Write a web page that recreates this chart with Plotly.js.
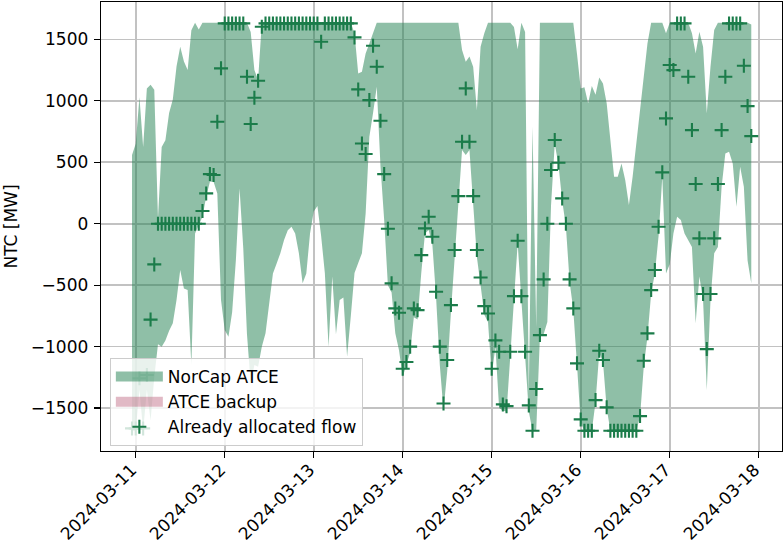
<!DOCTYPE html>
<html>
<head>
<meta charset="utf-8">
<script src="https://cdn.plot.ly/plotly-3.0.1.min.js"></script>
<style>html,body{margin:0;padding:0;background:#fff;}#chart{width:783px;height:547px;}</style>
</head>
<body>
<div id="chart"></div>
<script>
// Hourly series, first hour 2024-03-10 23:00, 168 hours
const startTime = '2024-03-10T23:00:00Z';
const nHours = 168;

const atceUpper = [
  560, 650, 1030, 625, 1100, 1130, 1090, 40, 625, 680, 900, 1010, 1280, 1440, 1320, 1250, 1575, 1636, 1580, 1636, 1636, 1636, 1636, 1636,
  1636, 1636, 1636, 1636, 1636, 1636, 1636, 1636, 1560, 1250, 1170, 1636, 1636, 1636, 1636, 1636, 1636, 1636, 1636, 1636, 1636, 1636, 1636, 1636,
  1636, 1636, 1636, 1636, 1636, 1636, 1636, 1636, 1636, 1636, 1636, 1636, 1549, 1223, 1236, 1386, 1467, 1549, 1636, 1636, 1636, 1636, 1636, 1636,
  1636, 1636, 1636, 1636, 1636, 1636, 1636, 1636, 1636, 1636, 1636, 1636, 1636, 1636, 1636, 1636, 1636, 1413, 1318, 1360, 1277, 925, 1440, 1549,
  1636, 1636, 1636, 1636, 1636, 1636, 1636, 1600, 1420, 1636, 1560, -1380, 790, -840, 1636, 1636, 1636, 1636, 1636, 1636, 1636, 1636, 1636, 1636,
  1380, 1100, 1110, 980, 1120, 1050, 1190, 1140, 980, 680, 382, 382, 491, 355, 152, 382, 654, 925, 1196, 1467, 1636, 1636, 1636, 1636,
  1550, 1636, 1636, 1636, 1636, 1636, 1636, 1550, 1386, 1562, 1440, 898, 1277, 1576, 1636, 1636, 1636, 1636, 1636, 1636, 1636, 1636, 1636, 1620
];

const atceLower = [
  -1684, -1684, -1350, -1684, -1350, -1600, -1250, -980, -1000, -950, -870, -810, -620, -377, -527, -540, -1150, -80, -10, 57, 220, 342, 342, 247,
  -620, -865, -920, -720, -300, 287, -200, -900, -1300, -1150, -1163, -1000, -890, -620, -404, -323, -240, -133, -52, -24, -79, -240, -485, -404,
  -79, 100, 144, -100, -400, -1000, -430, -900, -620, -600, -1080, -750, -400, -320, -240, 84, 708, 900, 1115, 470, 30, -500, -560, -892,
  -1030, -1245, -1150, -1050, -760, -780, -400, -80, -50, -170, -600, -1150, -1520, -1200, -720, -260, 180, 600, 560, 600, 160, -270, -500, -740,
  -800, -1230, -1000, -1500, -1520, -1530, -1080, -620, -160, -620, -1100, -1530, -1684, -1684, -920, -900, -800, 150, 650, 480, 190, -20, -470, -700,
  -1150, -1620, -1684, -1684, -1684, -1450, -1050, -1120, -1500, -1684, -1684, -1684, -1684, -1684, -1684, -1684, -1684, -1570, -1163, -920, -567, -404, -100, 380,
  -404, -330, -80, 57, 30, -80, -130, -190, -810, -430, -620, -1353, -620, -240, -190, 300, 572, 586, 491, 138, 463, 300, -300, -485
];

const allocatedFlow = [
  -1665, -1665, -1258, -1665, -1231, -780, -331, 0, 0, 0, 0, 0, 0, 0, 0, 0, 0, 0, 0, 103, 247, 404, 396, 830,
  1264, 1630, 1630, 1630, 1630, 1630, 1630, 1196, 811, 1025, 1163, 1603, 1630, 1630, 1630, 1630, 1630, 1630, 1630, 1630, 1630, 1630, 1630, 1630,
  1630, 1630, 1630, 1480, 1630, 1630, 1630, 1630, 1630, 1630, 1630, 1630, 1516, 1093, 653, 567, 1006, 1448, 1277, 838, 404, -41, -485, -689,
  -724, -1180, -1125, -1000, -689, -703, -255, -38, 57, -106, -553, -1000, -1462, -1109, -662, -214, 225, 667, 1101, 667, 225, -214, -437, -670,
  -730, -1180, -949, -1041, -1470, -1484, -1041, -589, -138, -589, -1041, -1478, -1684, -1345, -906, -453, 0, 437, 681, 496, 206, 0, -453, -689,
  -1136, -1592, -1684, -1684, -1684, -1435, -1033, -1109, -1494, -1684, -1684, -1684, -1684, -1684, -1684, -1684, -1684, -1565, -1115, -892, -540, -377, -24, 418,
  857, 1291, 1250, 1630, 1630, 1630, 1196, 762, 323, -119, -572, -1020, -572, -119, 323, 762, 1196, 1630, 1630, 1630, 1630, 1285, 957, 713
];

const xTickLabels = ['2024-03-11','2024-03-12','2024-03-13','2024-03-14','2024-03-15','2024-03-16','2024-03-17','2024-03-18'];
const yTickVals = [-1500, -1000, -500, 0, 500, 1000, 1500];

function pad(n){return (n<10?'0':'')+n;}
const t0 = Date.parse(startTime);
const times = [];
for (let i = 0; i < nHours; i++) {
  const d = new Date(t0 + i*3600000);
  times.push(d.getUTCFullYear()+'-'+pad(d.getUTCMonth()+1)+'-'+pad(d.getUTCDate())+' '+pad(d.getUTCHours())+':00');
}

const bandColor = 'rgba(31,128,80,0.5)';
const backupColor = 'rgba(180,80,110,0.4)';
const markerColor = '#1b7c4a';

const traces = [
  {x: times, y: atceLower, mode: 'lines', line: {width: 0, color: bandColor}, showlegend: false, hoverinfo: 'skip'},
  {x: times, y: atceUpper, mode: 'lines', line: {width: 0, color: bandColor}, fill: 'tonexty', fillcolor: bandColor, showlegend: false},
  // legend entries
  {x: [times[0]], y: [null], mode: 'lines', line: {width: 12, color: bandColor}, name: 'NorCap ATCE'},
  {x: [times[0]], y: [null], mode: 'lines', line: {width: 12, color: backupColor}, name: 'ATCE backup'},
  {x: times, y: allocatedFlow, mode: 'markers', name: 'Already allocated flow',
   marker: {symbol: 'cross-thin', size: 10, color: markerColor, line: {width: 2.1, color: markerColor}}}
];

const layout = {
  width: 783, height: 547,
  margin: {l: 101, r: 1, t: 2, b: 96},
  paper_bgcolor: '#fff', plot_bgcolor: '#fff',
  font: {family: 'DejaVu Sans', size: 17, color: '#000'},
  showlegend: true,
  legend: {x: 0.013, y: 0.207, xanchor: 'left', yanchor: 'top', traceorder: 'normal',
           bgcolor: 'rgba(255,255,255,0.8)', bordercolor: '#cccccc', borderwidth: 1,
           font: {family: 'DejaVu Sans', size: 17}, itemwidth: 47, tracegroupgap: 0},
  xaxis: {
    type: 'date',
    range: ['2024-03-10 14:38', '2024-03-18 06:17'],
    tickvals: xTickLabels, ticktext: xTickLabels, tickangle: -45,
    showgrid: true, gridcolor: '#c2c2c2', gridwidth: 1.6,
    showline: true, mirror: true, linecolor: '#000', linewidth: 1.3,
    ticks: 'outside', ticklen: 6, tickwidth: 1.3, tickcolor: '#000',
    zeroline: false, tickfont: {size: 17}, ticklabelstandoff: -5, ticklabelshift: -4
  },
  yaxis: {
    range: [-1849, 1804],
    tickvals: yTickVals,
    showgrid: true, gridcolor: '#c2c2c2', gridwidth: 1.6,
    showline: true, mirror: true, linecolor: '#000', linewidth: 1.3,
    ticks: 'outside', ticklen: 6, tickwidth: 1.3, tickcolor: '#000',
    zeroline: false, tickfont: {size: 17}, ticklabelstandoff: 2,
    title: {text: 'NTC [MW]', font: {size: 17}, standoff: 8}
  }
};

Plotly.newPlot('chart', traces, layout, {displayModeBar: false, staticPlot: true});
</script>
</body>
</html>
